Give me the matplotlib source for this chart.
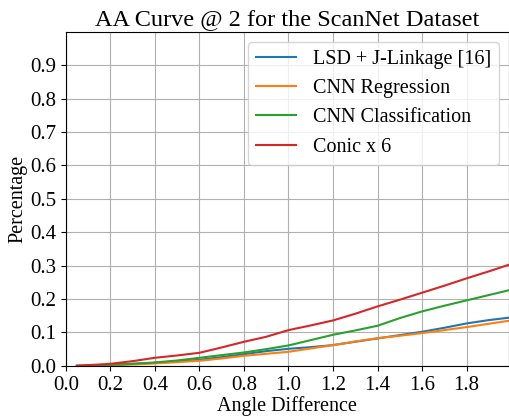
import matplotlib
matplotlib.use('Agg')
import matplotlib.pyplot as plt
import numpy as np

plt.rcParams['font.family'] = ['Liberation Serif', 'DejaVu Serif']

# angle thresholds and accuracy values
angle = [0.05, 0.1, 0.2, 0.3, 0.4, 0.5, 0.6, 0.7, 0.8, 0.9, 1.0,
         1.1, 1.2, 1.3, 1.4, 1.5, 1.6, 1.7, 1.8, 1.9, 2.0]
lsd = [0.0, 0.001, 0.003, 0.006, 0.009, 0.013, 0.018, 0.026, 0.035, 0.044, 0.051,
       0.056, 0.062, 0.072, 0.082, 0.092, 0.102, 0.114, 0.127, 0.137, 0.145]
cnn_reg = [0.0, 0.001, 0.002, 0.004, 0.007, 0.011, 0.015, 0.022, 0.030, 0.036, 0.042,
           0.052, 0.062, 0.073, 0.083, 0.090, 0.098, 0.107, 0.116, 0.126, 0.136]
cnn_cls = [0.0, 0.001, 0.003, 0.006, 0.010, 0.016, 0.024, 0.032, 0.040, 0.050, 0.061,
           0.077, 0.093, 0.106, 0.120, 0.143, 0.163, 0.180, 0.196, 0.212, 0.228]
conic = [0.0, 0.002, 0.006, 0.014, 0.024, 0.031, 0.039, 0.055, 0.072, 0.087, 0.107,
         0.121, 0.136, 0.156, 0.178, 0.198, 0.219, 0.240, 0.262, 0.283, 0.305]
labels = ['LSD + J-Linkage [16]', 'CNN Regression', 'CNN Classification', 'Conic x 6']

fig = plt.figure(figsize=(5.1, 4.2), dpi=100)
ax = fig.add_axes([0.129, 0.129, 0.869, 0.795])
for y, lab in zip([lsd, cnn_reg, cnn_cls, conic], labels):
    ax.plot(angle, y, label=lab, lw=1.5)

ax.set_xlim(0, 1.99)
ax.set_ylim(0, 1.0)
ax.set_xticks(np.arange(0, 2.0, 0.2))
ax.set_yticks(np.arange(0, 1.0, 0.1))
ax.xaxis.set_major_formatter(plt.FormatStrFormatter('%.1f'))
ax.yaxis.set_major_formatter(plt.FormatStrFormatter('%.1f'))
ax.tick_params(labelsize=15)
ax.grid(True, color='#b0b0b0', lw=0.8)
ax.set_xlabel('Angle Difference', fontsize=14.5, labelpad=1)
ax.set_ylabel('Percentage', fontsize=14.5, labelpad=2)
ax.set_title('AA Curve @ 2 for the ScanNet Dataset', fontsize=17.5, pad=5)
ax.legend(loc='upper right', fontsize=14.5)

fig.savefig('out.png')
